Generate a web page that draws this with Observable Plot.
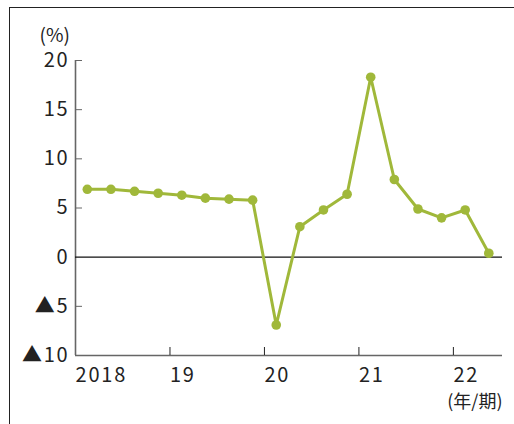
<!DOCTYPE html>
<html>
<head>
<meta charset="utf-8">
<script src="https://cdn.jsdelivr.net/npm/d3@7"></script>
<script src="https://cdn.jsdelivr.net/npm/@observablehq/plot@0.6"></script>
<style>
  html, body { margin: 0; padding: 0; background: #fff; overflow: hidden; }
  #wrap { position: relative; width: 514px; height: 424px; }
  #box { position: absolute; left: 9px; top: 7px; width: 700px; height: 700px;
         border-left: 1.5px solid #222; border-top: 1.5px solid #222; }
  #chart { position: absolute; left: 0; top: 0; }
  #chart svg g[aria-label="y-axis tick label"] text,
  #chart svg g[aria-label="x-axis tick label"] text { letter-spacing: 1.8px; }
</style>
</head>
<body>
<div id="wrap"><div id="box"></div><div id="chart"></div></div>
<script>
// Quarterly growth rate (%), 2018 Q1 – 2022 Q2
const periods = [
  "2018Q1", "2018Q2", "2018Q3", "2018Q4",
  "2019Q1", "2019Q2", "2019Q3", "2019Q4",
  "2020Q1", "2020Q2", "2020Q3", "2020Q4",
  "2021Q1", "2021Q2", "2021Q3", "2021Q4",
  "2022Q1", "2022Q2"
];
const growth = [
  6.9, 6.9, 6.7, 6.5,
  6.3, 6.0, 5.9, 5.8,
  -6.9, 3.1, 4.8, 6.4,
  18.3, 7.9, 4.9, 4.0,
  4.8, 0.4
];
const yearTicks = [2018, 2019, 2020, 2021, 2022];
const yearLabels = ["2018", "19", "20", "21", "22"];
const valueTicks = [-10, -5, 0, 5, 10, 15, 20];

// place each quarter at the middle of its slot within the year
const rows = periods.map((p, i) => ({
  t: +p.slice(0, 4) + (+p.slice(5) - 0.5) / 4,
  v: growth[i]
}));

const green = "#a0b83a";
const axisGray = "#666";
const font = "'Noto Sans CJK JP', 'Noto Sans', sans-serif";
const fmtValue = d => d < 0 ? "▲" + Math.abs(d) : String(d);
const fmtYear = d => yearLabels[yearTicks.indexOf(d)];

const chart = Plot.plot({
  width: 514,
  height: 424,
  marginLeft: 75,
  marginRight: 12,
  marginTop: 60,
  marginBottom: 69,
  x: { domain: [2018, 2022.52] },
  y: { domain: [-10, 20] },
  style: { fontFamily: font, fontSize: "20px", color: "#222", background: "transparent" },
  marks: [
    // axis lines
    Plot.ruleX([2018], { stroke: axisGray, strokeWidth: 1.6 }),
    Plot.ruleY([-10], { stroke: axisGray, strokeWidth: 1.6 }),
    // inward tick marks
    Plot.axisY({ ticks: valueTicks.filter(d => d !== 0 && d !== -10), tickSize: -7, tickFormat: () => "", stroke: axisGray, label: null }),
    Plot.axisX({ ticks: yearTicks.slice(1), tickSize: -8, tickFormat: () => "", stroke: "#222", label: null }),
    // tick labels
    Plot.axisY({ ticks: valueTicks, tickSize: 0, tickPadding: 6, tickFormat: fmtValue, label: null, fill: "#222" }),
    Plot.axisX({ ticks: yearTicks, tickSize: 0, tickPadding: 12, tickFormat: fmtYear, textAnchor: "start", label: null, fill: "#222" }),
    // zero line
    Plot.ruleY([0], { stroke: "#111", strokeWidth: 1.2 }),
    // series
    Plot.line(rows, { x: "t", y: "v", stroke: green, strokeWidth: 3 }),
    Plot.dot(rows, { x: "t", y: "v", r: 4.8, fill: green }),
    // units
    Plot.text(["(%)"], { frameAnchor: "top-left", lineAnchor: "middle", dx: -36, dy: -25, textAnchor: "start", fontSize: 19, fill: "#222" }),
    Plot.text(["(年/期)"], { frameAnchor: "bottom-right", lineAnchor: "middle", dx: 0, dy: 47, textAnchor: "end", fontSize: 18, fill: "#222" })
  ]
});
document.getElementById("chart").appendChild(chart);
</script>
</body>
</html>
